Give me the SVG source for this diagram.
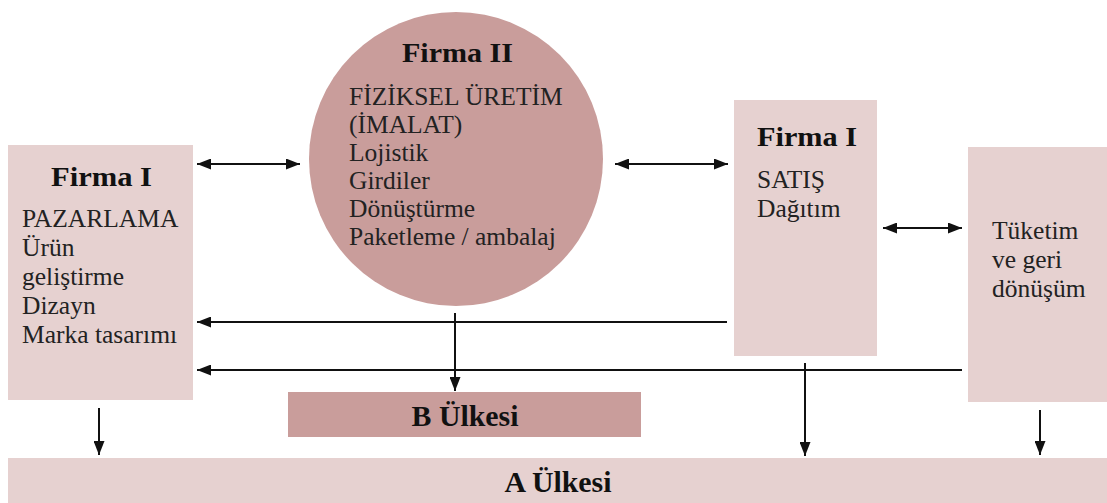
<svg xmlns="http://www.w3.org/2000/svg" width="1107" height="503" viewBox="0 0 1107 503">
  <style>
    .light { fill: #e6d1d0; }
    .dark { fill: #c99d9b; }
    .head { font-weight: bold; font-size: 28px; fill: #111; }
    .body { font-size: 25.5px; fill: #222; }
    .country { font-weight: bold; font-size: 29px; fill: #111; text-anchor: middle; }
    .link { stroke: #111; stroke-width: 2; fill: none; }
  </style>
  <defs>
    <marker id="head" markerUnits="userSpaceOnUse" markerWidth="14" markerHeight="11" refX="14" refY="5.5" orient="auto-start-reverse">
      <path d="M0,0 L14,5.5 L0,11 z" fill="#111"/>
    </marker>
  </defs>

  <rect width="1107" height="503" fill="#ffffff"/>

  <g font-family="'Liberation Serif', 'Times New Roman', serif">
  <!-- Marketing firm -->
  <g id="firma1-pazarlama">
    <rect class="light" x="8" y="145" width="185" height="255"/>
    <text class="head" x="51" y="186" textLength="101" lengthAdjust="spacingAndGlyphs">Firma I</text>
    <text class="body" x="22" y="227">PAZARLAMA</text>
    <text class="body" x="22" y="256">Ürün</text>
    <text class="body" x="22" y="285">geliştirme</text>
    <text class="body" x="22" y="314">Dizayn</text>
    <text class="body" x="22" y="343">Marka tasarımı</text>
  </g>

  <!-- Production firm -->
  <g id="firma2-uretim">
    <circle class="dark" cx="456" cy="159" r="147"/>
    <text class="head" x="402" y="62" textLength="111" lengthAdjust="spacingAndGlyphs">Firma II</text>
    <text class="body" x="349" y="105">FİZİKSEL ÜRETİM</text>
    <text class="body" x="349" y="133">(İMALAT)</text>
    <text class="body" x="349" y="161">Lojistik</text>
    <text class="body" x="349" y="189">Girdiler</text>
    <text class="body" x="349" y="217">Dönüştürme</text>
    <text class="body" x="349" y="245">Paketleme / ambalaj</text>
  </g>

  <!-- Sales firm -->
  <g id="firma1-satis">
    <rect class="light" x="734" y="100" width="143" height="256"/>
    <text class="head" x="757" y="146" textLength="100" lengthAdjust="spacingAndGlyphs">Firma I</text>
    <text class="body" x="757" y="188">SATIŞ</text>
    <text class="body" x="757" y="217">Dağıtım</text>
  </g>

  <!-- Consumption and recycling -->
  <g id="tuketim">
    <rect class="light" x="968" y="147" width="139" height="255"/>
    <text class="body" x="992" y="239">Tüketim</text>
    <text class="body" x="992" y="268">ve geri</text>
    <text class="body" x="992" y="297">dönüşüm</text>
  </g>

  <!-- Countries -->
  <g id="b-ulkesi">
    <rect class="dark" x="288" y="392" width="353" height="45"/>
    <text class="country" x="465" y="426" textLength="107" lengthAdjust="spacingAndGlyphs">B Ülkesi</text>
  </g>
  <g id="a-ulkesi">
    <rect class="light" x="8" y="458" width="1099" height="45"/>
    <text class="country" x="558" y="492" textLength="107" lengthAdjust="spacingAndGlyphs">A Ülkesi</text>
  </g>
  </g>

  <!-- Connectors -->
  <g id="connectors">
    <line class="link" x1="197" y1="164" x2="300" y2="164" marker-start="url(#head)" marker-end="url(#head)"/>
    <line class="link" x1="615" y1="164" x2="728" y2="164" marker-start="url(#head)" marker-end="url(#head)"/>
    <line class="link" x1="883" y1="228" x2="962" y2="228" marker-start="url(#head)" marker-end="url(#head)"/>
    <line class="link" x1="727" y1="322" x2="197" y2="322" marker-end="url(#head)"/>
    <line class="link" x1="962" y1="370" x2="197" y2="370" marker-end="url(#head)"/>
    <line class="link" x1="455" y1="313" x2="455" y2="391" marker-end="url(#head)"/>
    <line class="link" x1="805" y1="363" x2="805" y2="456" marker-end="url(#head)"/>
    <line class="link" x1="99" y1="408" x2="99" y2="455" marker-end="url(#head)"/>
    <line class="link" x1="1040" y1="410" x2="1040" y2="455" marker-end="url(#head)"/>
  </g>
</svg>
